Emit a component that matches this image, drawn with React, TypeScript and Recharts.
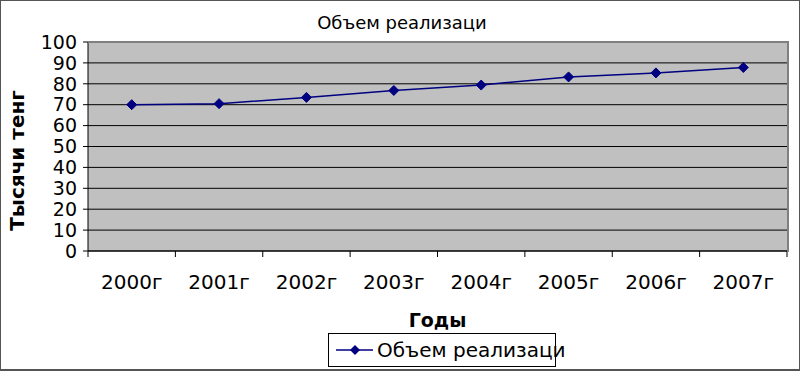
import React from "react";
import { LineChart, Line, XAxis, YAxis, CartesianGrid, Legend } from "recharts";

// data
const years = ["2000г", "2001г", "2002г", "2003г", "2004г", "2005г", "2006г", "2007г"];
const sales = [70, 70.5, 73.5, 76.8, 79.4, 83.3, 85.2, 87.8];
const yTicks = [0, 10, 20, 30, 40, 50, 60, 70, 80, 90, 100];

const seriesName = "Объем реализаци";
const chartTitle = "Объем реализаци";
const yTitle = "Тысячи тенг";
const xTitle = "Годы";

const data = years.map((year, i) => ({ year, value: sales[i] }));

const W = 800;
const H = 371;
const PLOT_LEFT = 88;
const PLOT_RIGHT = 787;
const PLOT_TOP = 42;
const PLOT_BOTTOM = 251;
const BAND = (PLOT_RIGHT - PLOT_LEFT) / years.length;
const FONT = "'DejaVu Sans', Verdana, sans-serif";
const NAVY = "#000080";

function Diamond(props: any) {
  const { cx, cy, index } = props;
  if (cx == null || cy == null) return null;
  const r = 5;
  return (
    <polygon
      key={`d-${index}`}
      points={`${cx},${cy - r} ${cx + r},${cy} ${cx},${cy + r} ${cx - r},${cy}`}
      fill={NAVY}
      stroke={NAVY}
    />
  );
}

// labels sit in the middle of each category, tick marks on the boundaries
function YearTick(props: any) {
  const { x, y, payload, index } = props;
  const last = index === years.length - 1;
  return (
    <g>
      <line x1={x - BAND / 2} x2={x - BAND / 2} y1={y} y2={y + 6} stroke="#000" />
      {last && <line x1={x + BAND / 2} x2={x + BAND / 2} y1={y} y2={y + 6} stroke="#000" />}
      <text x={x} y={y + 38} textAnchor="middle" fontSize={20} fill="#000" fontFamily={FONT}>
        {payload.value}
      </text>
    </g>
  );
}

function YTitle(props: any) {
  const vb = props.viewBox || { y: PLOT_TOP, height: PLOT_BOTTOM - PLOT_TOP };
  const cy = vb.y + vb.height / 2 + 14;
  return (
    <text
      x={24}
      y={cy}
      transform={`rotate(-90, 24, ${cy})`}
      textAnchor="middle"
      fontSize={20}
      fontWeight="bold"
      fontFamily={FONT}
      fill="#000"
    >
      {yTitle}
    </text>
  );
}

function LegendBox() {
  return (
    <div
      style={{
        boxSizing: "border-box",
        width: 228,
        height: 34,
        border: "1px solid #000",
        background: "#fff",
        display: "flex",
        alignItems: "center",
        fontFamily: FONT,
        fontSize: 20,
        color: "#000",
        whiteSpace: "nowrap",
      }}
    >
      <svg width={48} height={20} style={{ flex: "none" }}>
        <line x1={7} x2={44} y1={10} y2={10} stroke={NAVY} strokeWidth={1.5} />
        <polygon points="26,5 31,10 26,15 21,10" fill={NAVY} />
      </svg>
      <span>{seriesName}</span>
    </div>
  );
}

export default function App() {
  return (
    <div style={{ position: "relative", width: W, height: H, background: "#fff" }}>
      <style>{`body{margin:0}`}</style>
      <div
        style={{
          position: "absolute",
          left: 0,
          top: 12,
          width: 804,
          textAlign: "center",
          fontFamily: FONT,
          fontSize: 18,
          color: "#000",
        }}
      >
        {chartTitle}
      </div>
      <LineChart
        width={W}
        height={H}
        data={data}
        margin={{ top: PLOT_TOP, right: W - PLOT_RIGHT, bottom: 75, left: 0 }}
      >
        <CartesianGrid horizontal vertical={false} stroke="#000" fill="#c0c0c0" />
        <XAxis
          dataKey="year"
          padding={{ left: BAND / 2, right: BAND / 2 }}
          height={H - 75 - PLOT_BOTTOM}
          tickSize={0}
          tickMargin={0}
          tickLine={false}
          axisLine={{ stroke: "#000" }}
          tick={<YearTick />}
          interval={0}
          label={{
            value: xTitle,
            position: "bottom",
            offset: 18,
            style: { fontFamily: FONT, fontSize: 19, fontWeight: "bold", fill: "#000" },
          }}
        />
        <YAxis
          width={PLOT_LEFT}
          domain={[0, 100]}
          ticks={yTicks}
          interval={0}
          tickSize={5}
          tickMargin={6}
          axisLine={{ stroke: "#000" }}
          tickLine={{ stroke: "#000" }}
          tick={{ fontFamily: FONT, fontSize: 19, fill: "#000" }}
          label={<YTitle />}
        />
        <Legend
          layout="horizontal"
          verticalAlign="middle"
          align="center"
          content={() => <LegendBox />}
          wrapperStyle={{ left: 328, top: 333, width: 228, height: 34 }}
        />
        <Line
          type="linear"
          dataKey="value"
          name={seriesName}
          stroke={NAVY}
          strokeWidth={1.5}
          dot={<Diamond />}
          activeDot={false}
          isAnimationActive={false}
        />
      </LineChart>
      {/* grey frame on the top and right of the plot area */}
      <div
        style={{
          position: "absolute",
          left: PLOT_LEFT,
          top: PLOT_TOP - 1,
          width: PLOT_RIGHT - PLOT_LEFT,
          height: PLOT_BOTTOM - PLOT_TOP,
          borderTop: "2px solid #808080",
          borderRight: "2px solid #808080",
          pointerEvents: "none",
        }}
      />
      <div
        style={{
          position: "absolute",
          inset: 0,
          border: "1px solid #555",
          borderBottomWidth: 2,
          pointerEvents: "none",
        }}
      />
    </div>
  );
}
